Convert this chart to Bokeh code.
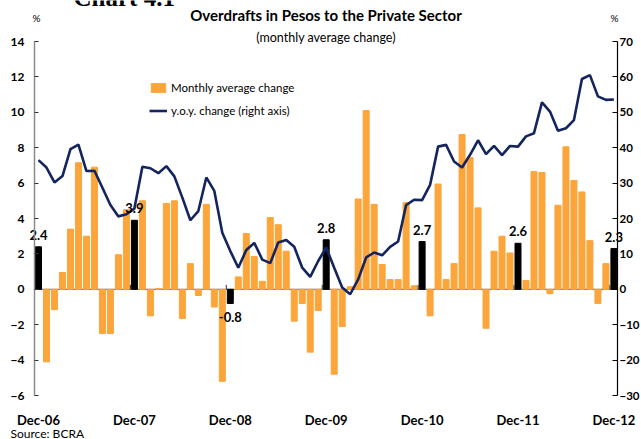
from bokeh.plotting import figure
from bokeh.models import (Range1d, LinearAxis, FixedTicker, Label, Legend,
                          LegendItem, ColumnDataSource)
from bokeh.core.properties import value
from bokeh.embed import file_html
from bokeh.resources import INLINE

# ---- data ----
monthly_change = [
    2.4, -4.1, -1.15, 0.95, 3.4, 7.15, 3.0, 6.9, -2.5, -2.5, 1.95, 4.5,      # Dec-06 .. Nov-07
    3.9, 5.0, -1.5, 0.05, 4.85, 5.0, -1.65, 1.45, -0.35, 4.8, -1.0, -5.2,    # Dec-07 .. Nov-08
    -0.8, 0.7, 3.15, 1.85, 0.45, 4.05, 3.65, 2.15, -1.8, -0.8, -3.55, -1.2,  # Dec-08 .. Nov-09
    2.8, -4.8, -2.1, 0.15, 5.1, 10.1, 4.8, 1.4, 0.55, 0.55, 4.9, 0.2,        # Dec-09 .. Nov-10
    2.7, -1.5, 5.95, 0.55, 1.45, 8.75, 7.45, 4.6, -2.2, 2.15, 3.0, 2.05,     # Dec-10 .. Nov-11
    2.6, 0.5, 6.65, 6.6, -0.25, 4.75, 8.05, 6.15, 5.5, 2.75, -0.8, 1.45,     # Dec-11 .. Nov-12
    2.3,                                                                     # Dec-12
]
# y.o.y. change, Dec-06 .. Dec-12
yoy_change = [
    36.5, 34.4, 30.2, 32.0, 39.6, 40.9, 33.4, 33.5, 28.7, 23.8, 20.6, 21.2,
    22.8, 34.6, 34.2, 32.8, 34.8, 31.9, 25.9, 19.5, 22.1, 31.6, 27.8, 16.0,
    10.8, 6.1, 11.1, 13.1, 8.4, 7.4, 13.2, 13.9, 12.0, 6.1, 3.5, 8.0,
    11.8, 6.1, 0.5, -1.4, 2.8, 9.0, 10.4, 9.6, 12.0, 13.5, 23.8, 25.3,
    25.2, 29.5, 40.3, 40.8, 36.1, 34.4, 38.0, 42.1, 38.2, 40.5, 37.9, 40.5,
    40.3, 43.2, 44.1, 52.8, 50.2, 44.8, 45.5, 47.8, 59.4, 60.5, 54.5, 53.5,
    53.6,
]
tick_labels = ["Dec-06", "Dec-07", "Dec-08", "Dec-09", "Dec-10", "Dec-11", "Dec-12"]
left_ticks = [-6, -4, -2, 0, 2, 4, 6, 8, 10, 12, 14]
right_ticks = [-30, -20, -10, 0, 10, 20, 30, 40, 50, 60, 70]

ORANGE = "#FBA53B"
NAVY = "#14245E"
FONT = "Lato"

# ---- layout constants (pixels / axis placement) ----
W, H = 641, 439
LEFT_AXIS_PX, RIGHT_AXIS_PX = 34, 617    # pixel columns of the two value axes
AXIS_TOP_PX, AXIS_BOTTOM_PX = 41, 395    # pixel rows of 14 and -6
x_axis_start = -0.5
x_axis_end = (len(monthly_change) - 1) + 0.45
px_per_month = (RIGHT_AXIS_PX - LEFT_AXIS_PX) / (x_axis_end - x_axis_start)
x_lo = x_axis_start - LEFT_AXIS_PX / px_per_month
x_hi = x_axis_end + (W - RIGHT_AXIS_PX) / px_per_month
px_per_unit = (AXIS_BOTTOM_PX - AXIS_TOP_PX) / (left_ticks[-1] - left_ticks[0])
y_top = left_ticks[-1] + AXIS_TOP_PX / px_per_unit
y_bottom = left_ticks[0] - (H - AXIS_BOTTOM_PX) / px_per_unit
ratio = right_ticks[-1] / left_ticks[-1]

n = len(monthly_change)
idx = list(range(n))
is_dec = [i % 12 == 0 for i in idx]
colors = ["black" if d else ORANGE for d in is_dec]

p = figure(width=W, height=H, output_backend="svg", toolbar_location=None,
           x_range=Range1d(x_lo, x_hi), y_range=Range1d(y_bottom, y_top),
           min_border_left=0, min_border_right=0, min_border_top=0, min_border_bottom=0)
p.outline_line_color = None
p.grid.visible = False
p.background_fill_color = "white"
p.border_fill_color = "white"

p.extra_y_ranges = {"yoy": Range1d(y_bottom * ratio, y_top * ratio)}

# zero line between the two value axes
p.segment(x0=[x_axis_start], x1=[x_axis_end], y0=[0], y1=[0], line_color="#555555", line_width=1)

src = ColumnDataSource(dict(x=idx, top=monthly_change, color=colors))
bars = p.vbar(x="x", top="top", bottom=0, width=0.75, color="color", source=src)

# year boundary ticks on the zero line
bx = [i - 0.5 for i in idx if is_dec[i] and i > 0]
p.segment(x0=bx, x1=bx, y0=[0] * len(bx), y1=[0.25] * len(bx), line_color="#333333", line_width=1)

line = p.line(x=idx, y=yoy_change, y_range_name="yoy", line_color=NAVY, line_width=2.6)

# value labels on December bars
dec_x = [i for i in idx if is_dec[i]]
dec_v = [monthly_change[i] for i in dec_x]
pos = [(x, v) for x, v in zip(dec_x, dec_v) if v >= 0]
neg = [(x, v) for x, v in zip(dec_x, dec_v) if v < 0]
for group, base, yoff in ((pos, "bottom", -7), (neg, "top", 9)):
    if not group:
        continue
    gs = ColumnDataSource(dict(x=[g[0] for g in group], y=[g[1] for g in group],
                               t=["%.1f" % g[1] for g in group]))
    p.text(x="x", y="y", text="t", source=gs, text_align="center",
           text_baseline=base, y_offset=yoff, text_font=value(FONT), text_font_style="bold",
           text_font_size="13px", text_color="black")

# axes (placed at fixed data locations inside the drawing area)
xa = p.xaxis[0]
xa.fixed_location = left_ticks[0]
xa.ticker = FixedTicker(ticks=dec_x)
xa.major_label_overrides = {x: lab for x, lab in zip(dec_x, tick_labels)}
xa.axis_line_color = None
xa.major_tick_line_color = None
xa.minor_tick_line_color = None
xa.major_label_standoff = 10
xa.major_label_text_font = FONT
xa.major_label_text_font_style = "bold"
xa.major_label_text_font_size = "13px"
xa.major_label_text_color = "black"

ya = p.yaxis[0]
ya.fixed_location = x_axis_start
ya.ticker = FixedTicker(ticks=left_ticks)
ya.bounds = (left_ticks[0], left_ticks[-1])
ya.axis_line_color = "#8a8a8a"
ya.axis_line_width = 1.5
ya.major_tick_in = 4
ya.major_tick_out = 0
ya.major_tick_line_color = "#333333"
ya.minor_tick_line_color = None
ya.major_label_standoff = 10
ya.major_label_text_font = FONT
ya.major_label_text_font_style = "bold"
ya.major_label_text_font_size = "12px"
ya.major_label_text_color = "black"

ra = LinearAxis(y_range_name="yoy", ticker=FixedTicker(ticks=right_ticks),
                bounds=(right_ticks[0], right_ticks[-1]), fixed_location=x_axis_end)
ra.axis_line_color = "black"
ra.axis_line_width = 1.2
ra.major_tick_in = 5
ra.major_tick_out = 0
ra.minor_tick_line_color = None
ra.major_label_standoff = 2
ra.major_label_text_font = FONT
ra.major_label_text_font_style = "bold"
ra.major_label_text_font_size = "11.5px"
ra.major_label_text_color = "black"
p.add_layout(ra, "right")

# legend
legend = Legend(items=[LegendItem(label="Monthly average change", renderers=[bars], index=1),
                       LegendItem(label="y.o.y. change (right axis)", renderers=[line])],
                location=(LEFT_AXIS_PX + 115, 278 + H - AXIS_BOTTOM_PX), orientation="vertical",
                background_fill_alpha=0, border_line_color=None,
                label_text_font=FONT, label_text_font_size="11.5px", label_text_color="black",
                glyph_width=18, glyph_height=11, label_standoff=4, spacing=10,
                padding=0, margin=0)
p.add_layout(legend)

# titles and notes
xmid = (x_axis_start + x_axis_end) / 2
top = left_ticks[-1]
p.add_layout(Label(x=x_axis_start, y=top, x_offset=39, y_offset=44, text="Chart 4.1",
                   text_align="left", text_baseline="alphabetic", text_font="Liberation Serif",
                   text_font_style="bold", text_font_size="25px", text_color="black"))
p.add_layout(Label(x=xmid, y=top, y_offset=27, text="Overdrafts in Pesos to the Private Sector",
                   text_align="center", text_baseline="middle", text_font=FONT,
                   text_font_style="bold", text_font_size="15px", text_color="black"))
p.add_layout(Label(x=xmid, y=top, y_offset=4, text="(monthly average change)",
                   text_align="center", text_baseline="middle", text_font=FONT,
                   text_font_size="12.5px", text_color="black"))
p.add_layout(Label(x=x_axis_start, y=top, y_offset=24, x_offset=2, text="%",
                   text_align="center", text_baseline="middle", text_font=FONT,
                   text_font_size="10px", text_color="black"))
p.add_layout(Label(x=x_axis_end, y=top, y_offset=24, x_offset=-3, text="%",
                   text_align="center", text_baseline="middle", text_font=FONT,
                   text_font_size="10px", text_color="black"))
p.add_layout(Label(x=x_axis_start, y=left_ticks[0], x_offset=-24, y_offset=-30,
                   text="Source: BCRA", text_align="left", text_baseline="top",
                   text_font=FONT, text_font_size="12px", text_color="black"))

open("out.html", "w").write(file_html(p, INLINE))
